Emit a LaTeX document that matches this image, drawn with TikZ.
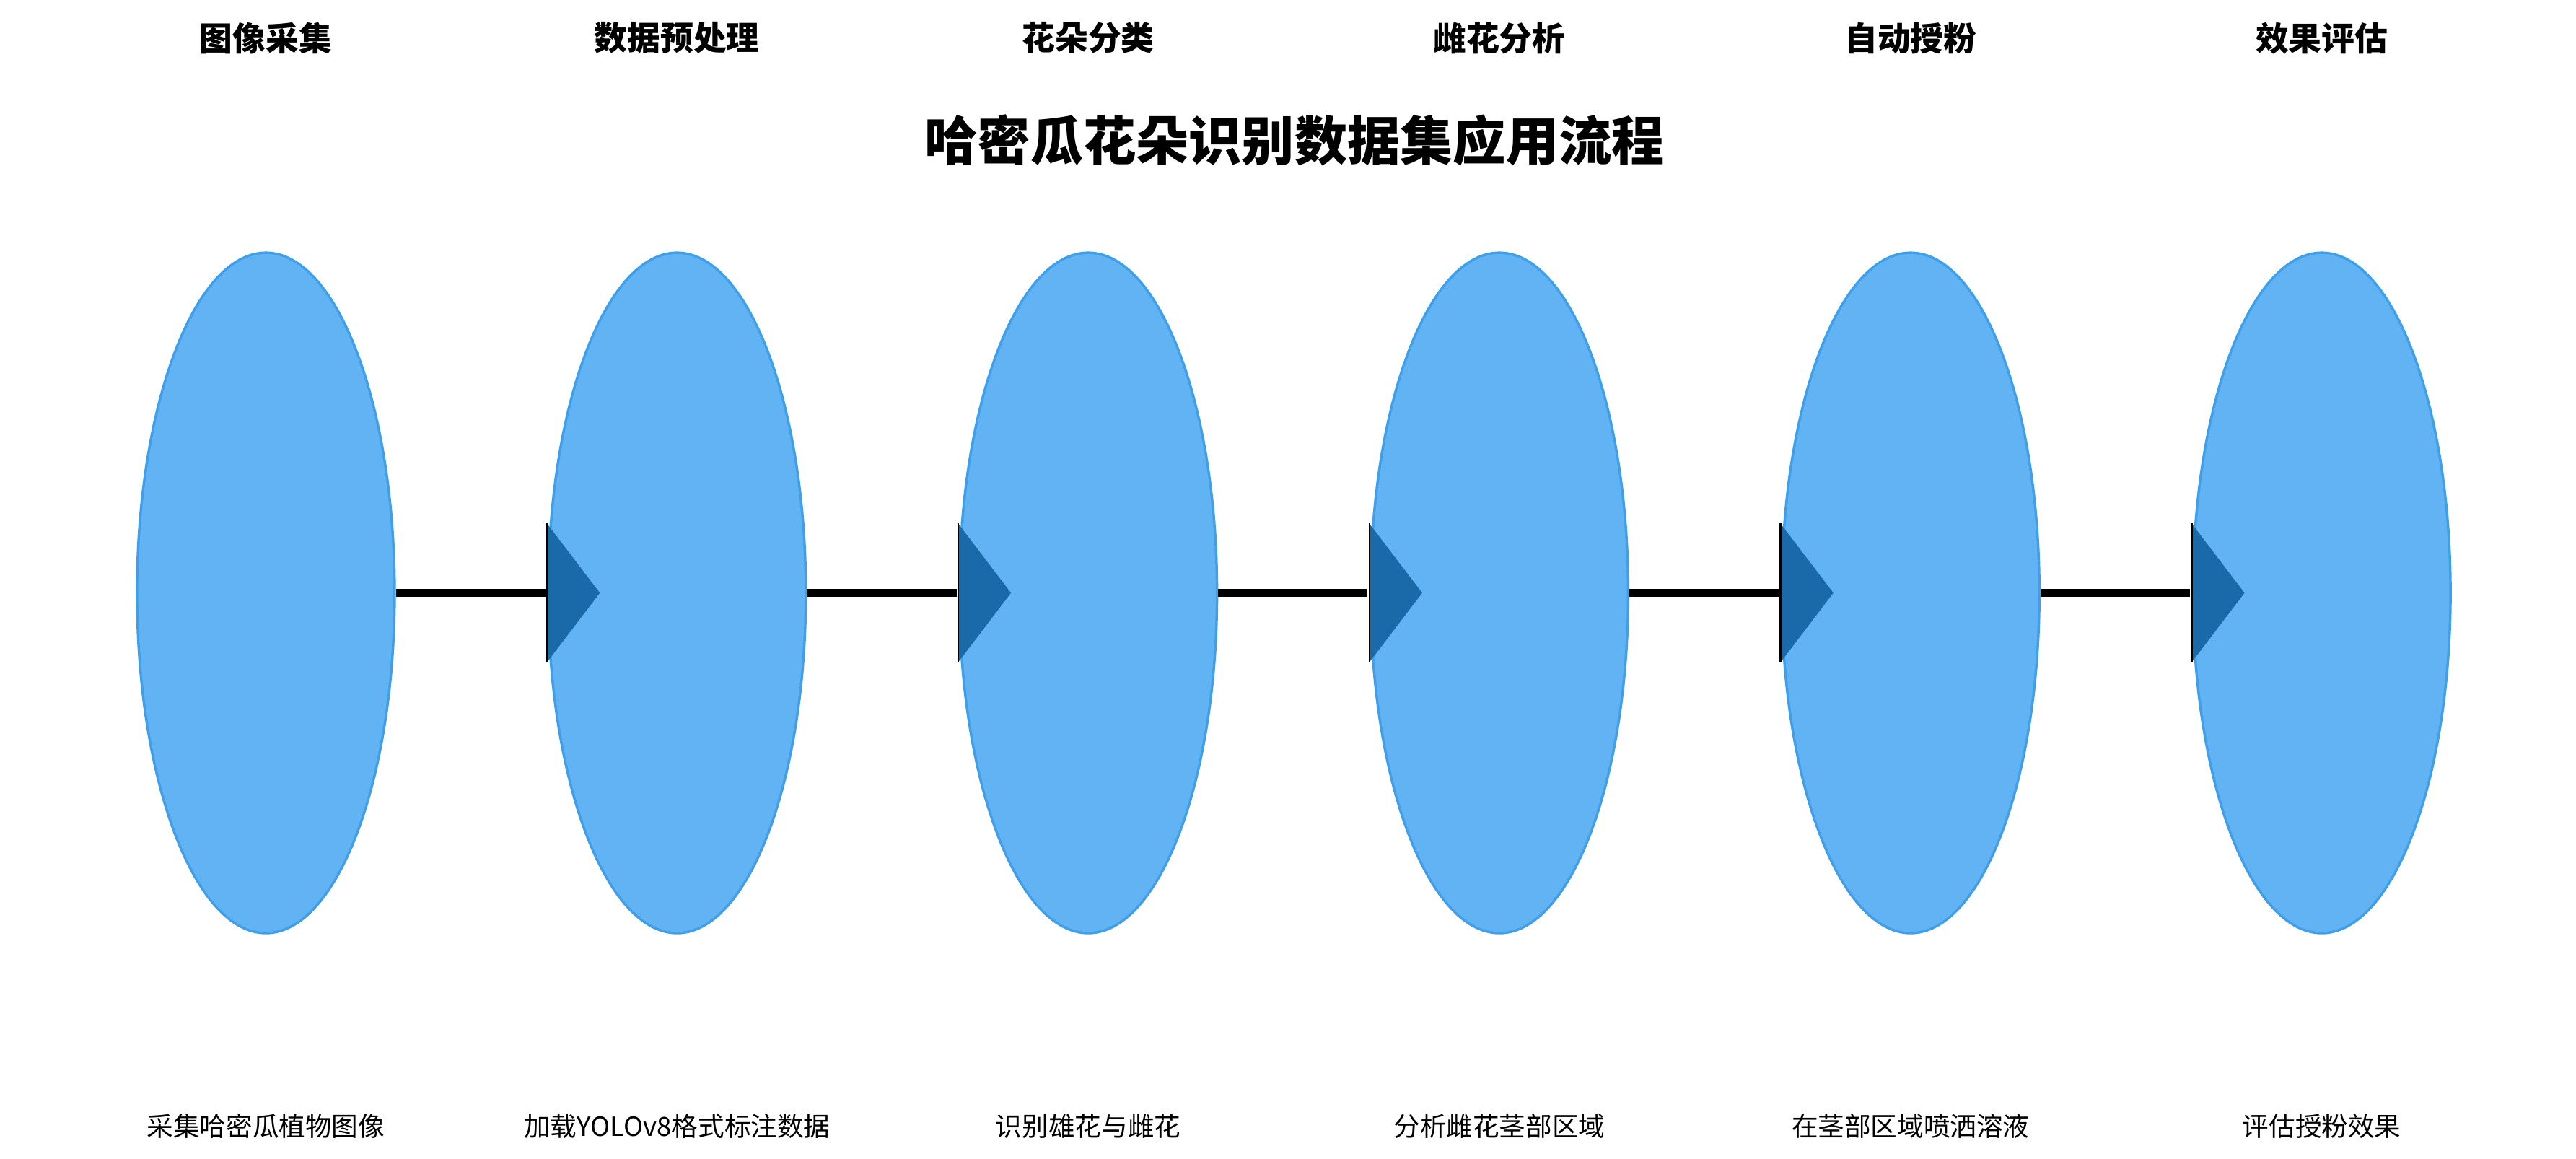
\documentclass[tikz,border=0pt]{standalone}
\usepackage{fontspec}
\usetikzlibrary{shapes.geometric}
\newfontfamily\cjk{Noto Sans CJK SC}
\definecolor{fillb}{HTML}{62B3F4}
\definecolor{edgeb}{HTML}{3F9FE8}
\definecolor{tri}{HTML}{1A69A8}
\begin{document}
\begin{tikzpicture}[x=1pt,y=-1pt,
  ell/.style={ellipse,draw=edgeb,fill=fillb,line width=1.5pt,minimum width=156pt,minimum height=412pt,inner sep=0pt},
  toplab/.style={font=\cjk\bfseries\fontsize{20}{24}\selectfont},
  botlab/.style={font=\cjk\fontsize{16}{19}\selectfont},
  conn/.style={line width=4.5pt,black}]
\useasboundingbox (0,0) rectangle (1560,701.4);
\node[font=\cjk\bfseries\fontsize{32}{38}\selectfont] (title) at (784,85) {哈密瓜花朵识别数据集应用流程};
\foreach \i/\t/\b in {0/图像采集/采集哈密瓜植物图像,1/数据预处理/加载YOLOv8格式标注数据,2/花朵分类/识别雄花与雌花,3/雌花分析/分析雌花茎部区域,4/自动授粉/在茎部区域喷洒溶液,5/效果评估/评估授粉效果}{
  \node[ell] (e\i) at (161+249*\i,359) {};
  \node[toplab] (t\i) at (161+249*\i,23) {\t};
  \node[botlab] (b\i) at (161+249*\i,682) {\b};
}
\foreach \i [evaluate=\i as \j using int(\i+1)] in {0,...,4}{
  \coordinate (a\j) at ([xshift=-1pt]e\j.west);
  \draw[conn] (e\i.east) -- (a\j);
  \fill[tri] ([yshift=-42pt]e\j.west) -- ([xshift=32pt]e\j.west) -- ([yshift=42pt]e\j.west) -- cycle;
  \draw[black,line width=1pt] ([yshift=-42pt]e\j.west) -- ([yshift=42pt]e\j.west);
}
\end{tikzpicture}
\end{document}
